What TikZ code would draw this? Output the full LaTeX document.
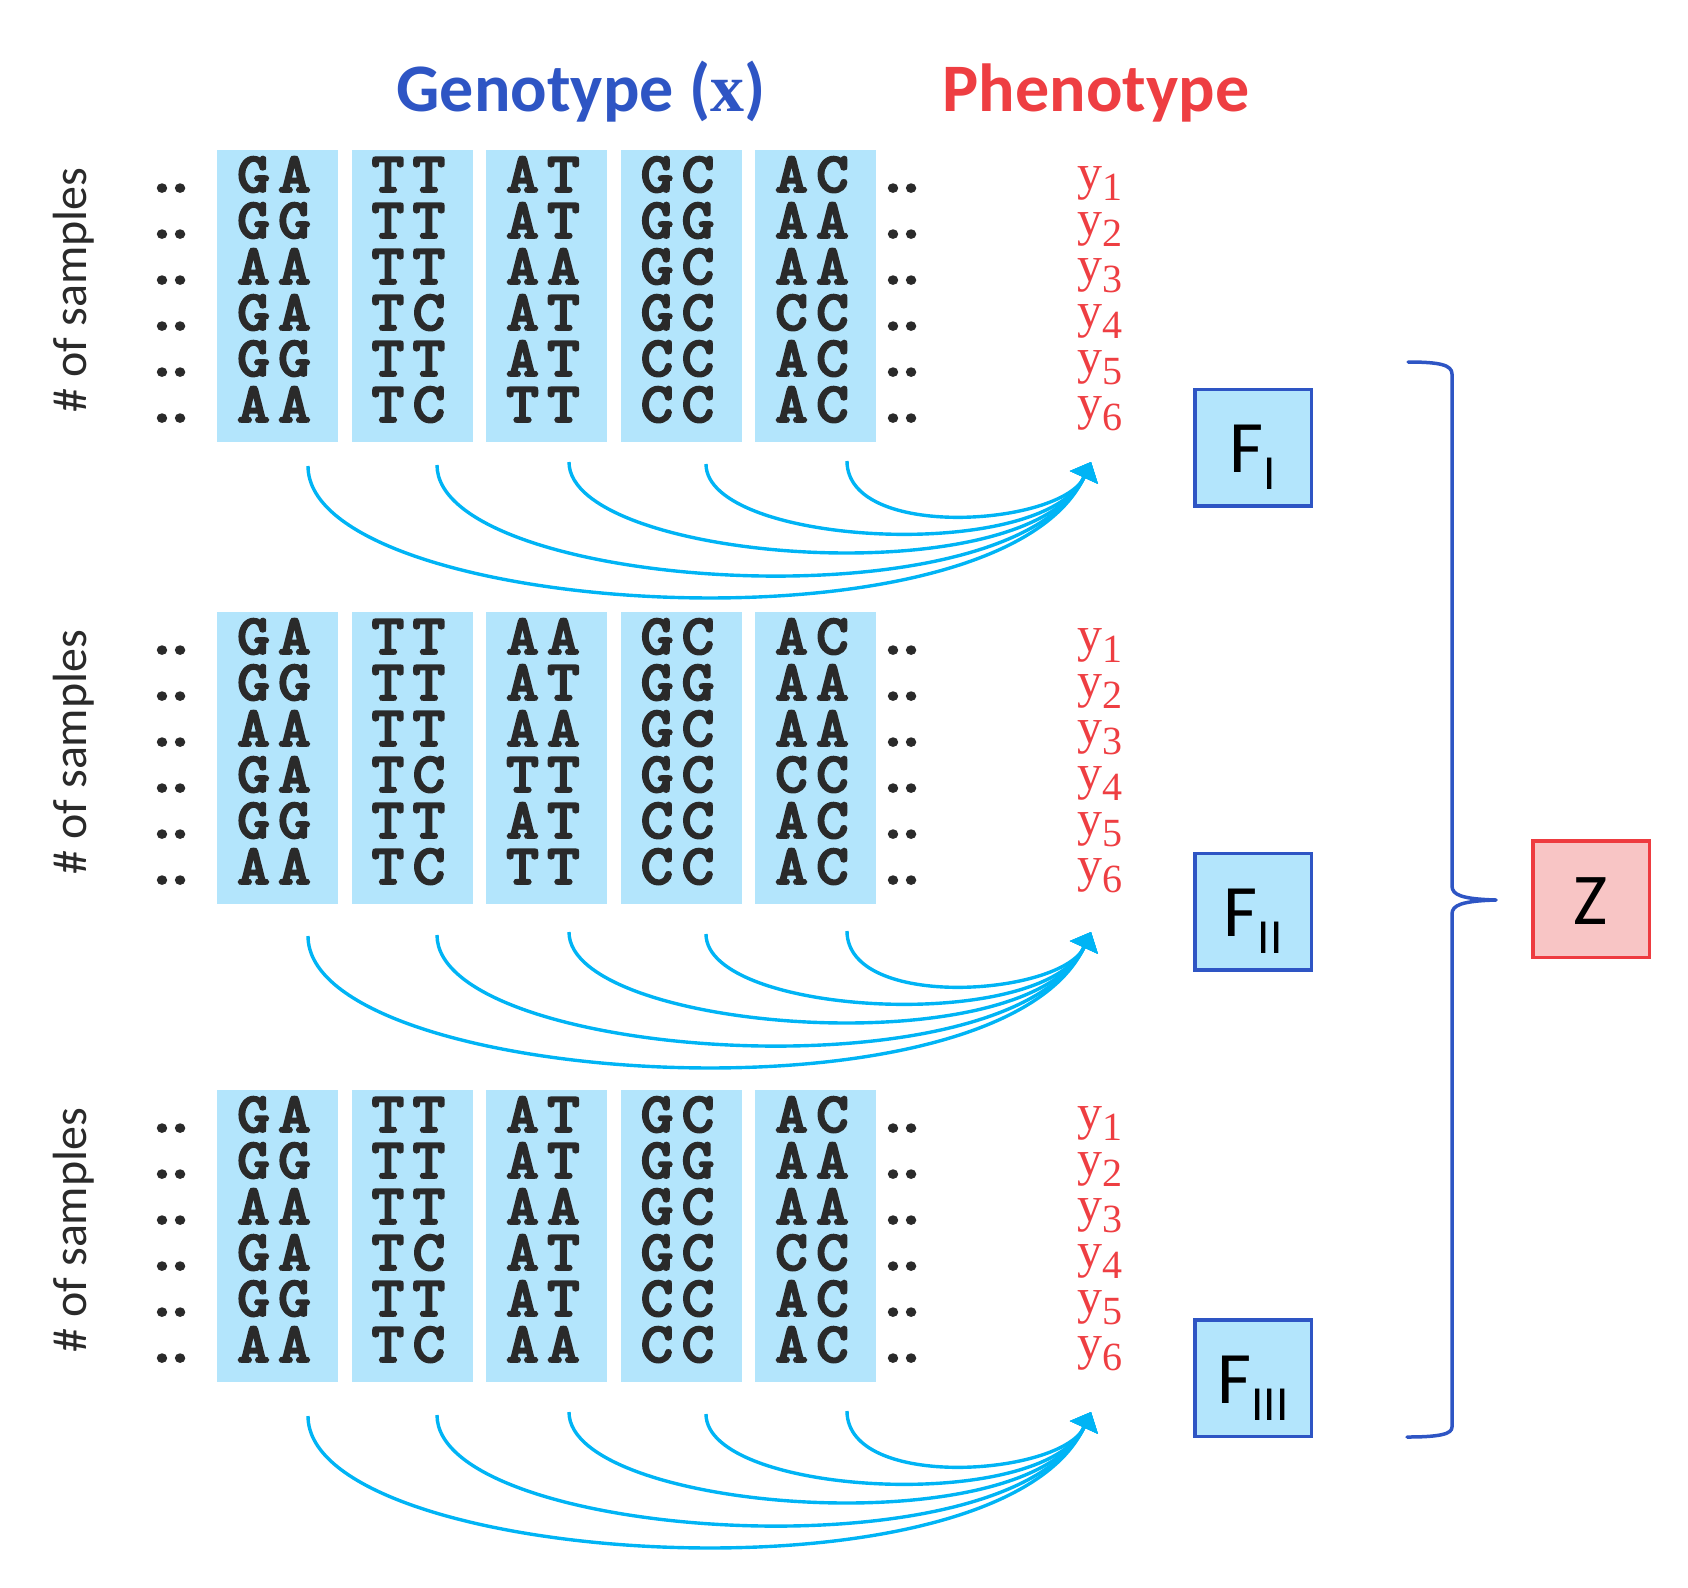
\documentclass[tikz,border=0pt]{standalone}
\usepackage{fontspec}
\setmainfont{Carlito}
\newfontfamily\seriffont{Liberation Serif}
\newfontfamily\genofont{lmmonolt10-bold}[Extension=.otf, FakeBold=3, FakeStretch=1.1]
\usetikzlibrary{arrows.meta}
\definecolor{gboxc}{RGB}{179,229,252}
\definecolor{gtxt}{RGB}{42,42,42}
\definecolor{tblue}{RGB}{46,85,196}
\definecolor{tred}{RGB}{238,62,66}
\definecolor{arrc}{RGB}{0,180,245}
\definecolor{zfill}{RGB}{248,197,197}
\definecolor{zline}{RGB}{238,59,64}
\newcommand\gpair[2]{\makebox[41pt]{#1}\makebox[41pt]{#2}}
\newcommand\gdots{\makebox[18pt]{.}\makebox[18pt]{.}}
\tikzset{
  gbox/.style={fill=gboxc, draw=none, minimum width=121pt, minimum height=292pt, anchor=north west, inner sep=0pt},
  gtext/.style={anchor=base, inner sep=0pt, text=gtxt, text height=34pt, text depth=2pt, font=\fontsize{57}{57}\selectfont\genofont},
  ylab/.style={anchor=base west, inner sep=0pt, text=tred, text height=25pt, text depth=12pt, font=\fontsize{50}{50}\selectfont\seriffont},
  samp/.style={rotate=90, anchor=base, inner sep=0pt, text=gtxt, font=\fontsize{48}{48}\selectfont},
  fnode/.style={fill=gboxc, draw=tblue, line width=3.5pt, minimum width=116.5pt, minimum height=116.5pt, inner sep=0pt, text height=50pt, text depth=0pt, font=\fontsize{74}{74}\selectfont},
  znode/.style={fill=zfill, draw=zline, line width=3.5pt, minimum width=116.5pt, minimum height=116.5pt, inner sep=0pt, text height=50pt, text depth=0pt, font=\fontsize{73}{73}\selectfont},
  curve/.style={draw=arrc, line width=3.4pt, -{Triangle[length=17pt,width=30pt]}},
  brace/.style={draw=tblue, line width=3.5pt, line join=round, line cap=round},
  title/.style={anchor=base, inner sep=0pt, font=\fontsize{68}{68}\selectfont\bfseries},
}
\newcommand\gencol[4]{%
  \node[gbox] (box#1c#3) at ({217+134.5*(#3-1)}, #2) {};
  \foreach \p [count=\r from 0] in {#4} {
    \node[gtext] (g#1c#3r\r) at ({217+134.5*(#3-1)+57}, {#2+42+46*\r}) {\expandafter\gpair\p};
  }}
\newcommand\genblock[4]{%
  \gencol{#1}{#2}{1}{GA,GG,AA,GA,GG,AA}
  \gencol{#1}{#2}{2}{TT,TT,TT,TC,TT,TC}
  \gencol{#1}{#2}{3}{#4}
  \gencol{#1}{#2}{4}{GC,GG,GC,GC,CC,CC}
  \gencol{#1}{#2}{5}{AC,AA,AA,CC,AC,AC}
  \foreach \r in {0,...,5} {
    \node[gtext] (dl#1r\r) at (171, {#2+42+46*\r}) {\gdots};
    \node[gtext] (dr#1r\r) at (902, {#2+42+46*\r}) {\gdots};
    \pgfmathtruncatemacro\n{\r+1}
    \node[ylab] (y#1r\r) at (1077, {#2+39+46*\r}) {y\raisebox{-11pt}{\fontsize{40}{40}\selectfont\n}};
  }
  \node[samp] (s#1) at (86, {#2+140}) {\# of samples};
  \coordinate (tip#1) at (1091, {462+#3});
  \coordinate (st#1a) at (308, {466+#3});
  \coordinate (st#1b) at (437, {465+#3});
  \coordinate (st#1c) at (569, {462+#3});
  \coordinate (st#1d) at (706, {464+#3});
  \coordinate (st#1e) at (847, {461+#3});
  \draw[curve] (st#1a) .. controls +(0,150) and +(-92,200) .. (tip#1);
  \draw[curve] (st#1b) .. controls +(0,125) and +(-78,168) .. (tip#1);
  \draw[curve] (st#1c) .. controls +(0,100) and +(-62,135) .. (tip#1);
  \draw[curve] (st#1d) .. controls +(0,82) and +(-47,102) .. (tip#1);
  \draw[curve] (st#1e) .. controls +(0,80) and +(-29,64) .. (tip#1);
}
\begin{document}
\begin{tikzpicture}[x=1pt, y=-1pt]
\useasboundingbox (0,0) rectangle (1688,1587);
\node[title, text=tblue] (geno) at (581,111) {Genotype ({\seriffont x})};
\node[title, text=tred] (pheno) at (1096,111) {Phenotype};
\genblock{1}{150}{0}{AT,AT,AA,AT,AT,TT}
\genblock{2}{612}{470}{AA,AT,AA,TT,AT,TT}
\genblock{3}{1090}{950}{AT,AT,AA,AT,AT,AA}
\node[fnode] (f1) at (1253,447.5) {F\raisebox{-17pt}{\fontsize{49}{49}\selectfont I}};
\node[fnode] (f2) at (1253,911.5) {F\raisebox{-17pt}{\fontsize{49}{49}\selectfont II}};
\node[fnode] (f3) at (1253,1378) {F\raisebox{-17pt}{\fontsize{49}{49}\selectfont III}};
\node[znode] (z) at (1591,899) {Z};
\coordinate (brtop) at (1408,362);
\coordinate (brtip) at (1496,900);
\coordinate (brbot) at (1407,1437);
\draw[brace] (brtop) .. controls (1440,362) and (1452,365) .. (1452,374) -- (1452,886)
  .. controls (1452,895) and (1462,899) .. (brtip)
  .. controls (1462,901) and (1452,905) .. (1452,914) -- (1452,1427)
  .. controls (1452,1434) and (1440,1437) .. (brbot);
\end{tikzpicture}
\end{document}
